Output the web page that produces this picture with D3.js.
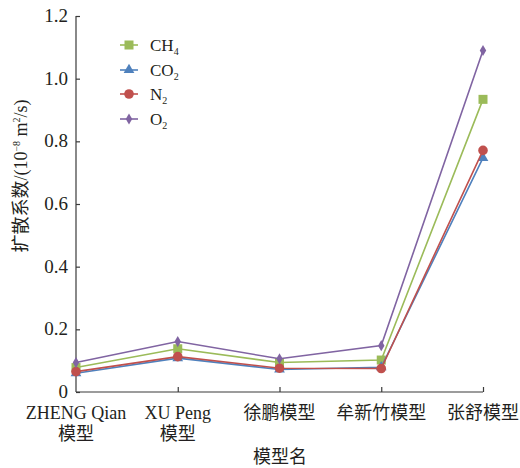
<!DOCTYPE html>
<html><head><meta charset="utf-8">
<script src="https://cdn.jsdelivr.net/npm/d3@7"></script>
<style>
body{margin:0;background:#fff;}
</style></head>
<body><svg id="c" width="520" height="468" font-family="'Liberation Serif', 'DejaVu Serif', 'Noto Sans CJK SC', serif"></svg>
<script>
const categories = [["ZHENG Qian","模型"],["XU Peng","模型"],["徐鹏模型"],["牟新竹模型"],["张舒模型"]];
const catKeys = ["ZHENG Qian模型","XU Peng模型","徐鹏模型","牟新竹模型","张舒模型"];
const CH4 = [0.078, 0.138, 0.094, 0.102, 0.934];
const CO2 = [0.060, 0.108, 0.072, 0.079, 0.747];
const N2  = [0.065, 0.113, 0.076, 0.075, 0.771];
const O2  = [0.094, 0.161, 0.106, 0.148, 1.090];
const yTicks = [0, 0.2, 0.4, 0.6, 0.8, 1.0, 1.2];
const yTickLabels = ["0","0.2","0.4","0.6","0.8","1.0","1.2"];

const series = [
  {name:"CH4", base:"CH", sub:"4", values:CH4, color:"#9bbb59", marker:"square"},
  {name:"CO2", base:"CO", sub:"2", values:CO2, color:"#4f81bd", marker:"triangle"},
  {name:"N2",  base:"N",  sub:"2", values:N2,  color:"#c0504d", marker:"circle"},
  {name:"O2",  base:"O",  sub:"2", values:O2,  color:"#8064a2", marker:"diamond"}
];

const FONT = "'Liberation Serif', 'DejaVu Serif', 'Noto Sans CJK SC', serif";
const svg = d3.select("#c");
const x = d3.scalePoint().domain(catKeys).range([76, 483]);
const y = d3.scaleLinear().domain([0, 1.2]).range([392, 16]);

const axisColor = "#3a3a3a";
const txtColor = "#231f20";
svg.append("line").attr("x1",76).attr("x2",76).attr("y1",y(0)).attr("y2",y(1.2)).attr("stroke",axisColor).attr("stroke-width",1.2);
svg.append("line").attr("x1",76).attr("x2",483).attr("y1",y(0)).attr("y2",y(0)).attr("stroke",axisColor).attr("stroke-width",1.2);

const yAxis = svg.append("g").attr("transform","translate(76,0)")
  .call(d3.axisRight(y).tickValues(yTicks).tickSize(4).tickFormat(""));
yAxis.select(".domain").remove();
yAxis.selectAll("line").attr("stroke",axisColor).attr("stroke-width",1.2);
svg.selectAll(".ylab").data(yTicks).enter().append("text")
  .attr("x",68).attr("y",d=>y(d)+6).attr("text-anchor","end")
  .attr("font-family",FONT).attr("fill",txtColor)
  .style("font-size","19px").text((d,i)=>yTickLabels[i]);

const xAxis = svg.append("g").attr("transform",`translate(0,${y(0)})`)
  .call(d3.axisTop(x).tickSize(5).tickFormat(""));
xAxis.select(".domain").remove();
xAxis.selectAll("line").attr("stroke",axisColor).attr("stroke-width",1.2);
xAxis.selectAll(".tick").filter((d,i)=>i===0).remove();

categories.forEach((lines,i)=>{
  const t = svg.append("text").attr("x",x(catKeys[i])).attr("y",419).attr("text-anchor","middle")
    .attr("font-family",FONT).attr("fill",txtColor).style("font-size","18px");
  lines.forEach((ln,j)=>{
    t.append("tspan").attr("x",x(catKeys[i])).attr("dy", j===0?0:21).text(ln);
  });
});

svg.append("text").attr("x",280).attr("y",463).attr("text-anchor","middle")
  .attr("font-family",FONT).attr("fill",txtColor).style("font-size","18px").text("模型名");
const yt = svg.append("text").attr("transform","translate(27,176) rotate(-90)").attr("text-anchor","middle")
  .attr("font-family",FONT).attr("fill",txtColor).style("font-size","18px");
yt.append("tspan").text("扩散系数/(10");
yt.append("tspan").attr("dy",-7).style("font-size","10px").text("−8");
yt.append("tspan").attr("dy",7).text(" m");
yt.append("tspan").attr("dy",-7).style("font-size","10px").text("2");
yt.append("tspan").attr("dy",7).text("/s)");

function drawMarker(g, type, cx, cy, color){
  if(type==="square") g.append("rect").attr("x",cx-4.5).attr("y",cy-4.5).attr("width",9).attr("height",9).attr("fill",color);
  else if(type==="triangle") g.append("path").attr("d",d3.symbol(d3.symbolTriangle,50)()).attr("transform",`translate(${cx},${cy})`).attr("fill",color);
  else if(type==="circle") g.append("circle").attr("cx",cx).attr("cy",cy).attr("r",4.8).attr("fill",color);
  else g.append("path").attr("d",d3.symbol(d3.symbolDiamond,36)()).attr("transform",`translate(${cx},${cy})`).attr("fill",color);
}

const line = d3.line().x((d,i)=>x(catKeys[i])).y(d=>y(d));
series.forEach(s=>{
  const g = svg.append("g");
  g.append("path").datum(s.values).attr("d",line).attr("fill","none").attr("stroke",s.color).attr("stroke-width",1.6);
  s.values.forEach((v,i)=>drawMarker(g, s.marker, x(catKeys[i]), y(v), s.color));
});

const legY = [45, 70, 94, 119];
series.forEach((s,i)=>{
  const g = svg.append("g");
  g.append("line").attr("x1",120).attr("x2",138).attr("y1",legY[i]).attr("y2",legY[i]).attr("stroke",s.color).attr("stroke-width",1.6);
  drawMarker(g, s.marker, 129, legY[i], s.color);
  const t = g.append("text").attr("x",150).attr("y",legY[i]+6).attr("font-family",FONT).attr("fill",txtColor).style("font-size","17px");
  t.append("tspan").text(s.base);
  t.append("tspan").attr("dy",4).style("font-size","10px").text(s.sub);
});
</script></body></html>
